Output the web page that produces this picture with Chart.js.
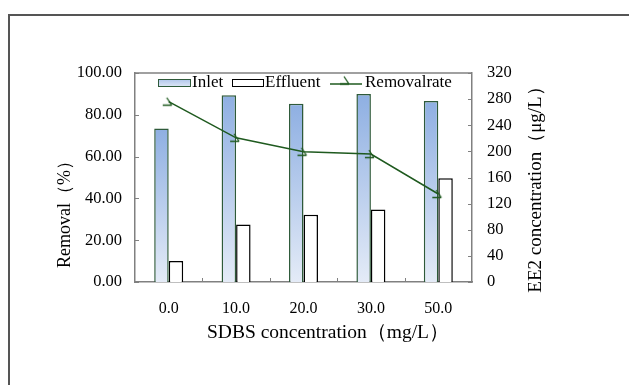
<!DOCTYPE html>
<html lang="en">
<head>
<meta charset="UTF-8">
<title>Removal vs SDBS concentration</title>
<script src="https://cdn.jsdelivr.net/npm/chart.js@4/dist/chart.umd.min.js"></script>
<style>
  body { margin: 0; background: #fff; }
  #wrap { width: 629px; height: 385px; }
</style>
</head>
<body>
<div id="wrap"><canvas id="chart" width="629" height="385"></canvas></div>
<script>
// data
const categories = ["0.0", "10.0", "20.0", "30.0", "50.0"];
const inlet = [235, 286, 273, 288, 277];       // µg/L, right axis
const effluent = [32, 88, 103, 111, 159];      // µg/L, right axis
const removalRate = [86.3, 69.0, 62.3, 61.2, 42.1]; // %, left axis

const serif = "'Liberation Serif', 'Times New Roman', serif";
const green = "#1f5a1f";

// small hook-shaped marker used for the removal rate line
function hookMarker() {
  const c = document.createElement("canvas");
  c.width = 16; c.height = 14;
  const g = c.getContext("2d");
  g.strokeStyle = green;
  g.lineWidth = 1.3;
  g.beginPath();
  g.moveTo(2, 10.5); g.lineTo(11, 10.5);
  g.moveTo(11, 10.5); g.lineTo(6, 3);
  g.stroke();
  return c;
}
const marker = hookMarker();

function inletFill(ctx) {
  const chart = ctx.chart;
  if (!chart.chartArea || ctx.dataIndex === undefined) return "#a8c0e8";
  const s = chart.scales.y1;
  const top = s.getPixelForValue(inlet[ctx.dataIndex]);
  const bottom = s.getPixelForValue(0);
  const grad = chart.ctx.createLinearGradient(0, top, 0, bottom);
  grad.addColorStop(0, "#8eafe2");
  grad.addColorStop(1, "#e4ebf7");
  return grad;
}

function vText(ctx, text, x, y) {
  ctx.save();
  ctx.translate(x, y);
  ctx.rotate(-Math.PI / 2);
  ctx.fillText(text, 0, 0);
  ctx.restore();
}

const framePlugin = {
  id: "frame",
  afterDraw(chart) {
    const { ctx, chartArea: a } = chart;
    ctx.save();
    // outer frame (only top and left show)
    ctx.strokeStyle = "#555";
    ctx.lineWidth = 2;
    ctx.beginPath();
    ctx.moveTo(9, 385); ctx.lineTo(9, 15); ctx.lineTo(629, 15);
    ctx.stroke();

    // plot box top edge
    ctx.strokeStyle = "#808080";
    ctx.lineWidth = 1.5;
    ctx.beginPath();
    ctx.moveTo(a.left, a.top); ctx.lineTo(a.right, a.top);
    ctx.stroke();

    // inward tick marks
    ctx.lineWidth = 1;
    ctx.beginPath();
    const y = chart.scales.y, y1 = chart.scales.y1;
    y.ticks.forEach(t => {
      const p = Math.round(y.getPixelForValue(t.value)) + 0.5;
      ctx.moveTo(a.left, p); ctx.lineTo(a.left + 4, p);
    });
    y1.ticks.forEach(t => {
      const p = Math.round(y1.getPixelForValue(t.value)) + 0.5;
      ctx.moveTo(a.right, p); ctx.lineTo(a.right - 4, p);
    });
    const w = (a.right - a.left) / categories.length;
    for (let i = 1; i < categories.length; i++) {
      const p = Math.round(a.left + w * i) + 0.5;
      ctx.moveTo(p, a.bottom); ctx.lineTo(p, a.bottom - 4);
    }
    ctx.stroke();

    // axis titles
    ctx.fillStyle = "#000";
    ctx.textAlign = "center";
    ctx.textBaseline = "middle";
    ctx.font = "18px " + serif;
    vText(ctx, "Removal（%）", 65, 210);
    ctx.font = "19px " + serif;
    vText(ctx, "EE2 concentration（μg/L）", 536, 185);
    ctx.font = "19.5px " + serif;
    ctx.fillText("SDBS concentration（mg/L）", 328, 333);
    ctx.restore();

    // legend inside the plot area
    ctx.save();
    ctx.font = "17px " + serif;
    ctx.textBaseline = "middle";
    const ly = 83;
    const lg = ctx.createLinearGradient(0, ly - 3, 0, ly + 3);
    lg.addColorStop(0, "#b4c9ec"); lg.addColorStop(1, "#d8e3f4");
    ctx.fillStyle = lg;
    ctx.fillRect(158, ly - 3, 32, 6);
    ctx.strokeStyle = "#2e5a3a"; ctx.lineWidth = 1;
    ctx.strokeRect(158.5, ly - 3.5, 32, 7);
    ctx.fillStyle = "#000";
    ctx.fillText("Inlet", 192, ly);
    ctx.fillStyle = "#fff";
    ctx.fillRect(232, ly - 3, 31, 6);
    ctx.strokeStyle = "#000";
    ctx.strokeRect(232.5, ly - 3.5, 31, 7);
    ctx.fillStyle = "#000";
    ctx.fillText("Effluent", 265, ly);
    ctx.strokeStyle = green; ctx.lineWidth = 1.5;
    ctx.beginPath(); ctx.moveTo(330, ly + 1); ctx.lineTo(362, ly + 1); ctx.stroke();
    ctx.drawImage(marker, 346 - 8, ly + 1 - 10.5);
    ctx.fillText("Removalrate", 365, ly);
    ctx.restore();
  }
};

new Chart(document.getElementById("chart"), {
  data: {
    labels: categories,
    datasets: [
      {
        type: "line",
        label: "Removalrate",
        data: removalRate,
        yAxisID: "y",
        borderColor: green,
        borderWidth: 1.5,
        pointStyle: marker,
        pointRadius: 6,
        tension: 0,
        order: 0
      },
      {
        type: "bar",
        label: "Inlet",
        data: inlet,
        yAxisID: "y1",
        backgroundColor: inletFill,
        borderColor: "#2e5a3a",
        borderWidth: 1.5,
        barPercentage: 1,
        categoryPercentage: 0.43,
        order: 1
      },
      {
        type: "bar",
        label: "Effluent",
        data: effluent,
        yAxisID: "y1",
        backgroundColor: "#fff",
        borderColor: "#000",
        borderWidth: 1.5,
        barPercentage: 1,
        categoryPercentage: 0.43,
        order: 1
      }
    ]
  },
  options: {
    responsive: false,
    animation: false,
    layout: { padding: { top: 73, left: 0, right: 0, bottom: 0 } },
    plugins: { legend: { display: false }, tooltip: { enabled: false } },
    scales: {
      x: {
        offset: true,
        grid: { display: false, drawTicks: false },
        border: { color: "#808080", width: 1.5 },
        ticks: { color: "#000", font: { family: serif, size: 16 }, padding: 17 },
        afterFit: s => { s.height = 103; }
      },
      y: {
        position: "left",
        min: 0, max: 100,
        grid: { display: false, drawTicks: false },
        border: { color: "#808080", width: 1.5 },
        ticks: { stepSize: 20, color: "#000", font: { family: serif, size: 16.5 }, padding: 13,
                 callback: v => Number(v).toFixed(2) },
        afterFit: s => { s.width = 135; }
      },
      y1: {
        position: "right",
        min: 0, max: 320,
        grid: { display: false, drawTicks: false },
        border: { color: "#808080", width: 1.5 },
        ticks: { stepSize: 40, color: "#000", font: { family: serif, size: 16.5 }, padding: 15 },
        afterFit: s => { s.width = 157; }
      }
    }
  },
  plugins: [framePlugin]
});
</script>
</body>
</html>
